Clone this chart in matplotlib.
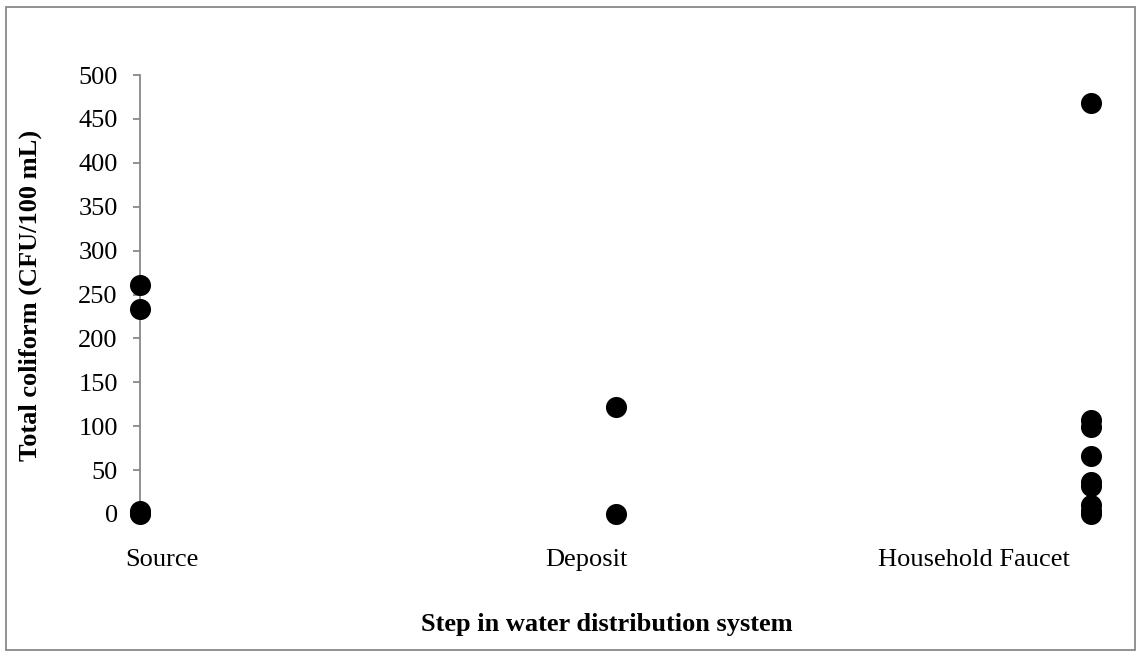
import matplotlib.pyplot as plt
from matplotlib.patches import Rectangle

# data
categories = ['Source', 'Deposit', 'Household Faucet']
source_vals = [261, 233, 3, 1, 0]
deposit_vals = [122, 0]
faucet_vals = [468, 107, 99, 66, 37, 32, 10, 3, 0]
y_ticks = [0, 50, 100, 150, 200, 250, 300, 350, 400, 450, 500]

plt.rcParams['font.family'] = ['Liberation Serif', 'DejaVu Serif']

fig = plt.figure(figsize=(11.41, 6.57), dpi=100)
W, H = 1141, 657

# axes placed in pixels: y axis at x=140, y=0 at 514px, y=500 at 75px
ax = fig.add_axes([140 / W, 1 - 514 / H, 975 / W, (514 - 75) / H])

groups = [source_vals, deposit_vals, faucet_vals]
for i, vals in enumerate(groups):
    ax.scatter([i] * len(vals), vals, s=230, color='black', zorder=3, clip_on=False,
               linewidths=0)

ax.set_xlim(0, 2.05)
ax.set_ylim(0, 500)
ax.set_yticks(y_ticks)
ax.tick_params(axis='y', labelsize=19, length=5, width=1.3, color='#888888', pad=11)

# category labels sit a bit off the point columns in the original
label_x = [0.046, 0.939, 1.754]
ax.set_xticks(label_x)
ax.set_xticklabels(categories)
ax.tick_params(axis='x', labelsize=19, length=0, pad=25)

for s in ['top', 'right', 'bottom']:
    ax.spines[s].set_visible(False)
ax.spines['left'].set_color('#888888')
ax.spines['left'].set_linewidth(1.3)

fig.text(30 / W, 1 - 295 / H, 'Total coliform (CFU/100 mL)', rotation=90,
         ha='center', va='center', fontsize=19, fontweight='bold')
fig.text(607 / W, 1 - 625 / H, 'Step in water distribution system',
         ha='center', va='center', fontsize=19, fontweight='bold')

# outer chart border
fig.patches.append(Rectangle((6 / W, 1 - 650 / H), (1135 - 6) / W, (650 - 7) / H,
                             transform=fig.transFigure, fill=False,
                             edgecolor='#888888', linewidth=1.3))

fig.savefig('out.png', dpi=100)
